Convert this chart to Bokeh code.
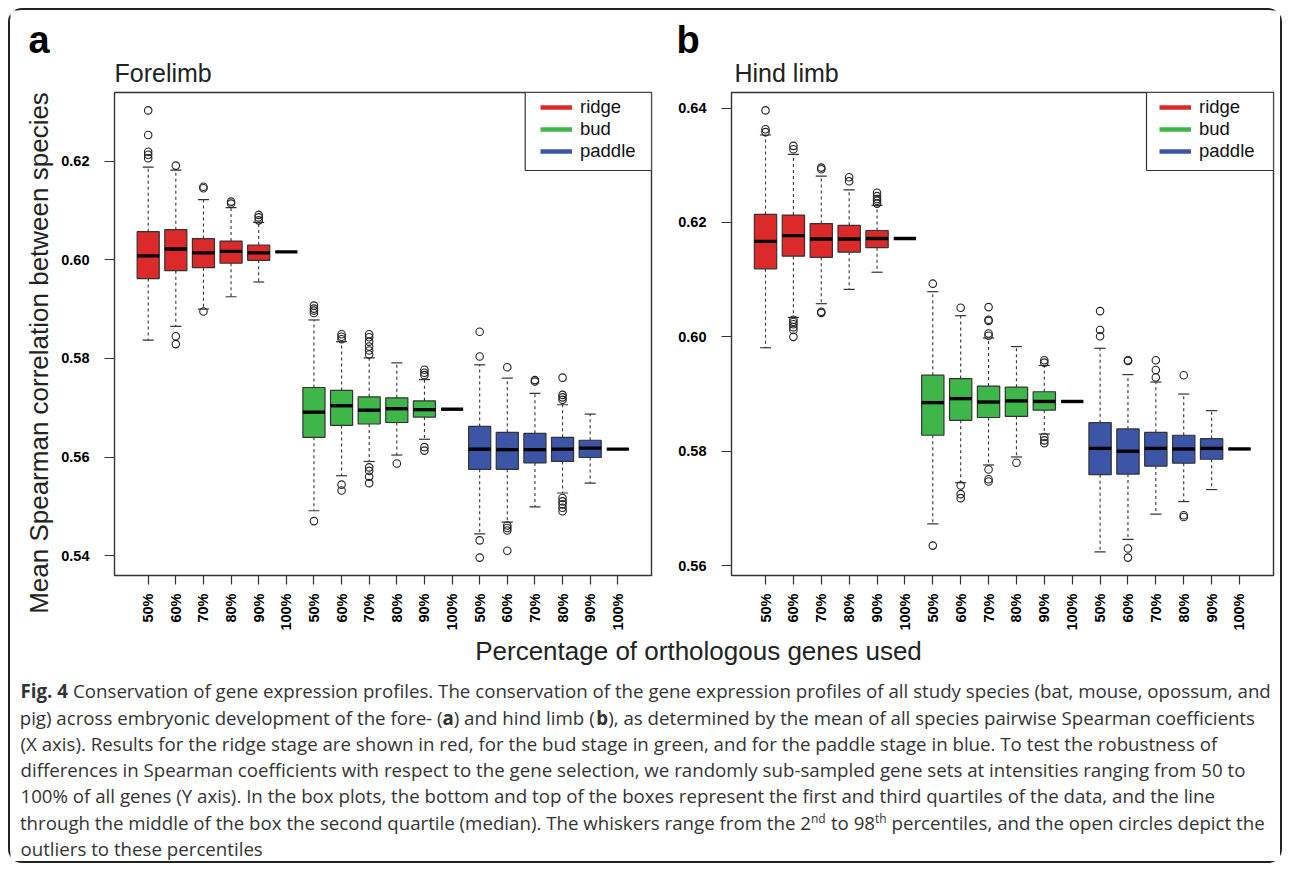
import math
from bokeh.plotting import figure
from bokeh.layouts import row, column
from bokeh.models import (Range1d, FixedTicker, Legend, LegendItem, ColumnDataSource,
                          PrintfTickFormatter, BoxAnnotation)
from bokeh.core.properties import value
from bokeh.embed import file_html
from bokeh.resources import INLINE

# ---------------- data ----------------
pct_labels = ["50%", "60%", "70%", "80%", "90%", "100%"] * 3
stages = ["ridge", "bud", "paddle"]
stage_colors = ["#DC2A2B", "#3FB64A", "#3C55A7"]

# Forelimb (panel a)
fore_low = [0.5837, 0.5865, 0.5900, 0.5925, 0.5955, 0.6016,
            0.5491, 0.5562, 0.5591, 0.5604, 0.5636, 0.5697,
            0.5444, 0.5468, 0.5499, 0.5527, 0.5547, 0.5616]
fore_q1 = [0.5962, 0.5978, 0.5984, 0.5993, 0.5999, 0.6016,
           0.5640, 0.5664, 0.5667, 0.5670, 0.5681, 0.5697,
           0.5575, 0.5575, 0.5588, 0.5591, 0.5599, 0.5616]
fore_med = [0.6008, 0.6022, 0.6014, 0.6017, 0.6014, 0.6016,
            0.5691, 0.5704, 0.5695, 0.5698, 0.5696, 0.5697,
            0.5616, 0.5615, 0.5615, 0.5616, 0.5618, 0.5616]
fore_q3 = [0.6057, 0.6061, 0.6043, 0.6038, 0.6030, 0.6016,
           0.5741, 0.5735, 0.5722, 0.5720, 0.5714, 0.5697,
           0.5662, 0.5650, 0.5648, 0.5640, 0.5634, 0.5616]
fore_high = [0.6188, 0.6182, 0.6122, 0.6106, 0.6076, 0.6016,
             0.5878, 0.5834, 0.5801, 0.5791, 0.5757, 0.5697,
             0.5787, 0.5760, 0.5729, 0.5706, 0.5687, 0.5616]
fore_out = [[0.6303, 0.6253, 0.6219, 0.6213, 0.6206],
            [0.6191, 0.5845, 0.5829],
            [0.6148, 0.6145, 0.5895],
            [0.6118, 0.6114],
            [0.6091, 0.6086, 0.6080],
            [],
            [0.5907, 0.5901, 0.5897, 0.5892, 0.5470],
            [0.5849, 0.5844, 0.5839, 0.5544, 0.5532],
            [0.5849, 0.5843, 0.5834, 0.5824, 0.5816, 0.5808, 0.5579, 0.5572, 0.5560, 0.5547],
            [0.5587],
            [0.5777, 0.5771, 0.5766, 0.5620, 0.5613],
            [],
            [0.5854, 0.5804, 0.5431, 0.5396],
            [0.5782, 0.5461, 0.5456, 0.5451, 0.5410],
            [0.5756, 0.5753],
            [0.5761, 0.5726, 0.5721, 0.5716, 0.5517, 0.5510, 0.5504, 0.5497, 0.5490],
            [],
            []]

# Hind limb (panel b)
hind_low = [0.5981, 0.6034, 0.6058, 0.6083, 0.6113, 0.6172,
            0.5673, 0.5745, 0.5776, 0.5790, 0.5830, 0.5887,
            0.5624, 0.5646, 0.5690, 0.5712, 0.5733, 0.5804]
hind_q1 = [0.6119, 0.6141, 0.6139, 0.6148, 0.6156, 0.6172,
           0.5828, 0.5854, 0.5859, 0.5861, 0.5872, 0.5887,
           0.5759, 0.5760, 0.5774, 0.5779, 0.5786, 0.5804]
hind_med = [0.6167, 0.6177, 0.6171, 0.6171, 0.6172, 0.6172,
            0.5885, 0.5892, 0.5886, 0.5888, 0.5887, 0.5887,
            0.5805, 0.5800, 0.5805, 0.5804, 0.5805, 0.5804]
hind_q3 = [0.6214, 0.6213, 0.6198, 0.6195, 0.6186, 0.6172,
           0.5933, 0.5927, 0.5914, 0.5912, 0.5904, 0.5887,
           0.5850, 0.5839, 0.5833, 0.5828, 0.5822, 0.5804]
hind_high = [0.6353, 0.6319, 0.6281, 0.6257, 0.6230, 0.6172,
             0.6079, 0.6037, 0.5998, 0.5983, 0.5950, 0.5887,
             0.5980, 0.5934, 0.5921, 0.5900, 0.5871, 0.5804]
hind_out = [[0.6396, 0.6363, 0.6358],
            [0.6334, 0.6328, 0.6030, 0.6026, 0.6022, 0.6017, 0.6012, 0.6000],
            [0.6296, 0.6293, 0.6044, 0.6042],
            [0.6279, 0.6272],
            [0.6252, 0.6246, 0.6241, 0.6238, 0.6233],
            [],
            [0.6093, 0.5635],
            [0.6051, 0.5740, 0.5725, 0.5718],
            [0.6052, 0.6030, 0.6028, 0.6006, 0.6002, 0.5768, 0.5751, 0.5747],
            [0.5780],
            [0.5959, 0.5955, 0.5825, 0.5819, 0.5814],
            [],
            [0.6045, 0.6012, 0.6001],
            [0.5959, 0.5958, 0.5630, 0.5614],
            [0.5959, 0.5942, 0.5929],
            [0.5933, 0.5688, 0.5685],
            [],
            []]

fore_ticks = [0.54, 0.56, 0.58, 0.60, 0.62]
hind_ticks = [0.56, 0.58, 0.60, 0.62, 0.64]

panel_titles = ["Forelimb", "Hind limb"]
panel_letters = ["a", "b"]
x_title = "Percentage of orthologous genes used"
y_title = "Mean Spearman correlation between species"

caption_lines = [
    "Conservation of gene expression profiles. The conservation of the gene expression profiles of all study species (bat, mouse, opossum, and",
    "(X axis). Results for the ridge stage are shown in red, for the bud stage in green, and for the paddle stage in blue. To test the robustness of",
    "differences in Spearman coefficients with respect to the gene selection, we randomly sub-sampled gene sets at intensities ranging from 50 to",
    "100% of all genes (Y axis). In the box plots, the bottom and top of the boxes represent the first and third quartiles of the data, and the line",
    "outliers to these percentiles",
]

AX_FONT = "Liberation Sans"
CAP_FONT = "Open Sans"
BOXW = 0.8
CAPW = 0.4
NAN = float("nan")
BASE_SHIFT = 0.36   # text baseline correction (fraction of font size)
PANEL_H = 547
BORDER_T, BORDER_B = 2, 62
LEG_FS = 18.5
LEG_PITCH = 22.3


def blank(width, height, x0, x1, y0, y1):
    f = figure(width=width, height=height, x_range=Range1d(x0, x1), y_range=Range1d(y0, y1),
               output_backend="svg", toolbar_location=None, min_border=0, title=None)
    f.axis.visible = False
    f.xgrid.visible = False
    f.ygrid.visible = False
    f.outline_line_color = None
    f.background_fill_color = "white"
    f.border_fill_color = "white"
    if "frame_align" in f.properties():
        f.frame_align = False
    return f


def text(f, x, y, t, size_px, font=AX_FONT, align="left", bold=False, color="#222222",
         angle=0.0):
    if angle:
        x = x - BASE_SHIFT * size_px
    else:
        y = y - BASE_SHIFT * size_px
    f.text(x=[x], y=[y], text=[t], text_align=align, text_baseline="alphabetic",
           text_font=value(font), text_font_size="%.1fpx" % size_px, text_color=color,
           text_font_style="bold" if bold else "normal", angle=angle)


def make_panel(low, q1, med, q3, high, outs, ticks, width, bl, br):
    n = len(med)
    pos = list(range(1, n + 1))
    allv = low + high + [v for o in outs for v in o]
    lo, hi = min(allv), max(allv)
    pad = 0.04 * (hi - lo)
    xpad = 0.04 * n
    p = figure(width=width, height=PANEL_H,
               x_range=Range1d(0.5 - xpad, n + 0.5 + xpad),
               y_range=Range1d(lo - pad, hi + pad),
               output_backend="svg", toolbar_location=None, title=None,
               min_border_left=bl, min_border_right=br,
               min_border_top=BORDER_T, min_border_bottom=BORDER_B)
    p.xgrid.visible = False
    p.ygrid.visible = False
    p.outline_line_color = "#333333"
    p.outline_line_width = 1.4
    p.background_fill_color = "white"
    p.border_fill_color = "white"

    colors = [stage_colors[i // 6] for i in range(n)]
    src = ColumnDataSource(dict(
        x=pos, low=low, q1=q1, med=med, q3=q3, high=high, color=colors,
        bl=[x - BOXW / 2 for x in pos], br=[x + BOXW / 2 for x in pos],
        cl=[x - CAPW / 2 for x in pos], cr=[x + CAPW / 2 for x in pos],
    ))
    p.segment(x0="x", x1="x", y0="q3", y1="high", source=src,
              line_color="#333333", line_width=1.1, line_dash="3 3")
    p.segment(x0="x", x1="x", y0="q1", y1="low", source=src,
              line_color="#333333", line_width=1.1, line_dash="3 3")
    p.segment(x0="cl", x1="cr", y0="high", y1="high", source=src,
              line_color="#333333", line_width=1.2)
    p.segment(x0="cl", x1="cr", y0="low", y1="low", source=src,
              line_color="#333333", line_width=1.2)
    p.vbar(x="x", width=BOXW, bottom="q1", top="q3", source=src,
           fill_color="color", line_color="#333333", line_width=1.2)
    p.segment(x0="bl", x1="br", y0="med", y1="med", source=src,
              line_color="black", line_width=3.4)
    ox = [pos[i] for i, o in enumerate(outs) for _ in o]
    oy = [v for o in outs for v in o]
    p.scatter(x=ox, y=oy, marker="circle", size=7.5, fill_color=None,
              line_color="#222222", line_width=1.1)

    p.xaxis.ticker = FixedTicker(ticks=pos)
    p.xaxis.major_label_overrides = {x: pct_labels[i] for i, x in enumerate(pos)}
    p.xaxis.major_label_orientation = math.pi / 2
    p.yaxis.ticker = FixedTicker(ticks=ticks)
    p.yaxis.formatter = PrintfTickFormatter(format="%.2f")
    for ax, tout, so in ((p.xaxis, 9, 9), (p.yaxis, 10, 15)):
        ax.axis_line_color = None
        ax.major_tick_in = 0
        ax.major_tick_out = tout
        ax.minor_tick_line_color = None
        ax.major_tick_line_color = "#333333"
        ax.major_tick_line_width = 1.2
        ax.major_label_standoff = so
        ax.major_label_text_font = AX_FONT
        ax.major_label_text_font_style = "bold"
        ax.major_label_text_color = "black"
        ax.major_label_text_font_size = "14.5px"

    # legend: framed box plus one single-item legend per stage
    fw = width - bl - br
    fh = PANEL_H - BORDER_T - BORDER_B
    xr, yr = p.x_range, p.y_range
    box_w, box_h = 127.0, 78.0
    box = BoxAnnotation(left=xr.end - box_w / fw * (xr.end - xr.start), right=xr.end,
                        bottom=yr.end - box_h / fh * (yr.end - yr.start), top=yr.end,
                        fill_color="white", fill_alpha=1.0,
                        line_color="#333333", line_alpha=1.0, line_width=1.2)
    p.add_layout(box)
    lrs = [p.line(x=pos[:2], y=[NAN, NAN], line_color=c, line_width=4.5) for c in stage_colors]
    item_h = 1.157 * LEG_FS
    mid = 37.3
    for i, (s, r) in enumerate(zip(stages, lrs)):
        centre = mid + (i - 1) * LEG_PITCH
        leg = Legend(items=[LegendItem(label=s, renderers=[r])],
                     location=(fw - 114.0, fh - centre - item_h / 2))
        leg.margin = 0
        leg.padding = 0
        leg.spacing = 0
        leg.label_height = 18
        leg.glyph_height = 18
        leg.glyph_width = 32
        leg.label_standoff = 8
        leg.label_text_font = AX_FONT
        leg.label_text_font_size = "%.1fpx" % LEG_FS
        leg.label_text_color = "#111111"
        leg.border_line_color = None
        leg.background_fill_alpha = 0.0
        p.add_layout(leg)
    return p


# header with panel letters and titles (page-pixel coordinates)
ph = blank(1270, 80, 10, 1280, 90, 10)
text(ph, 28, 53.5, panel_letters[0], 38, bold=True, color="black")
text(ph, 114, 81, panel_titles[0], 25)
text(ph, 676, 53.5, panel_letters[1], 38, bold=True, color="black")
text(ph, 734, 81, panel_titles[1], 25)

# y-axis title strip
py = blank(48, PANEL_H, 10, 58, 637, 90)
text(py, 48, 352.5, y_title, 26, align="center", angle=math.pi / 2)

pa = make_panel(fore_low, fore_q1, fore_med, fore_q3, fore_high, fore_out, fore_ticks,
                602, 53, 9)
pb = make_panel(hind_low, hind_q1, hind_med, hind_q3, hind_high, hind_out, hind_ticks,
                620, 71, 7)

# caption
pc = blank(1270, 224, 10, 1280, 861, 637)
text(pc, 698, 660, x_title, 26, align="center")

FS = 18.7
SUP = 12
CCOL = "#333333"
base = [697, 723.3, 749.6, 775.9, 802.2, 828.5, 854.8]


def seg(x, y, t, align="left", bold=False, size=FS):
    text(pc, x, y, t, size, font=CAP_FONT, align=align, bold=bold, color=CCOL)


seg(20, base[0], "Fig. 4", bold=True)
seg(72.5, base[0], caption_lines[0])
seg(442, base[1], "pig) across embryonic development of the fore- (", align="right")
seg(442, base[1], "a", bold=True)
seg(453.2, base[1], ") and hind limb (")
seg(595.7, base[1], "b", bold=True)
seg(607.7, base[1], "), as determined by the mean of all species pairwise Spearman coefficients")
seg(20, base[2], caption_lines[1])
seg(20, base[3], caption_lines[2])
seg(20, base[4], caption_lines[3])
seg(810.5, base[5], "through the middle of the box the second quartile (median). The whiskers range from the 2", align="right")
seg(810.5, base[5] - 6, "nd", size=SUP)
seg(830.4, base[5], "to 98")
seg(874.5, base[5] - 6, "th", size=SUP)
seg(891, base[5], "percentiles, and the open circles depict the")
seg(20, base[6], caption_lines[4])

layout = column(ph, row(py, pa, pb), pc, width=1274, height=855,
                styles={"border": "2px solid #222222", "border-radius": "14px",
                        "margin-left": "8px", "margin-top": "8px"})

open("out.html", "w").write(file_html(layout, INLINE))
